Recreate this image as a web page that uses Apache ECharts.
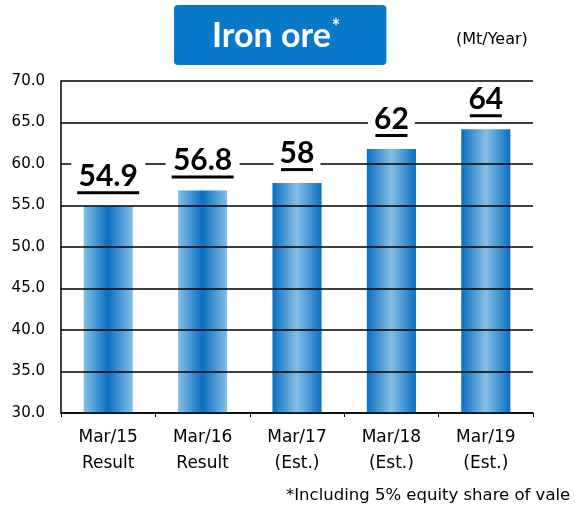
<!DOCTYPE html>
<html>
<head>
<meta charset="utf-8">
<script src="https://cdn.jsdelivr.net/npm/echarts@6/dist/echarts.min.js"></script>
<style>
  html, body { margin: 0; padding: 0; background: #fff; }
  #chart { width: 576px; height: 506px; }
</style>
</head>
<body>
<div id="chart"></div>
<script>
const categories = ['Mar/15\nResult', 'Mar/16\nResult', 'Mar/17\n(Est.)', 'Mar/18\n(Est.)', 'Mar/19\n(Est.)']
const values = [54.9, 56.8, 57.7, 61.8, 64.2]
const valueLabels = ['54.9', '56.8', '58', '62', '64']
const yTicks = [30, 35, 40, 45, 50, 55, 60, 65, 70]

const FONT = 'Lato, "Open Sans", sans-serif'
const WIDE = '"DejaVu Sans", sans-serif'
const DARK = '#0a6fc0'
const LIGHT = '#86bfe6'

// first two bars (results) are light-edged, estimates are dark-edged
function barGradient(i) {
  const edge = i < 2 ? LIGHT : DARK
  const mid = i < 2 ? DARK : LIGHT
  return new echarts.graphic.LinearGradient(0, 0, 1, 0, [
    { offset: 0, color: edge },
    { offset: 0.5, color: mid },
    { offset: 1, color: edge }
  ])
}

const chart = echarts.init(document.getElementById('chart'))

chart.setOption({
  animation: false,
  title: [
    {
      text: '{t|Iron ore}{s|*}',
      left: 174, top: 5,
      backgroundColor: '#0a78c8',
      borderRadius: 4,
      padding: [13, 46, 12, 38],
      textStyle: {
        rich: {
          t: { fontFamily: FONT, fontSize: 34, fontWeight: 'bold', color: '#fff', lineHeight: 36 },
          s: { fontFamily: FONT, fontSize: 20, fontWeight: 'bold', color: '#fff', verticalAlign: 'top', lineHeight: 36, padding: [0, 0, 14, 1] }
        }
      }
    },
    {
      text: '(Mt/Year)',
      left: 451, top: 27,
      textStyle: { fontFamily: WIDE, fontSize: 16, fontWeight: 'normal', color: '#000' }
    },
    {
      text: '*Including 5% equity share of vale',
      left: 281, top: 482,
      textStyle: { fontFamily: WIDE, fontSize: 16.5, fontWeight: 'normal', color: '#000' }
    }
  ],
  grid: { left: 61, right: 43, top: 81, bottom: 93 },
  xAxis: {
    type: 'category',
    data: categories,
    axisLine: { lineStyle: { color: '#000', width: 1.5 } },
    axisTick: { show: true, length: 4, lineStyle: { color: '#000' } },
    axisLabel: { fontFamily: WIDE, fontSize: 17, color: '#000', lineHeight: 26, margin: 12 }
  },
  yAxis: {
    type: 'value',
    min: 30, max: 70, interval: 5,
    z: 3,
    axisLine: { show: true, lineStyle: { color: '#000', width: 1.5 } },
    axisTick: { show: false },
    splitLine: { lineStyle: { color: '#000', width: 1.5 } },
    axisLabel: {
      fontFamily: WIDE, fontSize: 15, color: '#000', margin: 16,
      formatter: v => yTicks.includes(v) ? v.toFixed(1) : ''
    }
  },
  series: [
    {
      type: 'bar',
      z: 2,
      barWidth: '52%',
      data: values.map((v, i) => ({ value: v, itemStyle: { color: barGradient(i) } }))
    },
    {
      // transparent twin that carries the labels above the grid lines
      type: 'bar',
      z: 5,
      silent: true,
      barGap: '-100%',
      barWidth: '52%',
      itemStyle: { color: 'rgba(0,0,0,0)' },
      data: values.map((v, i) => ({
        value: v,
        label: {
          show: true,
          position: 'top',
          distance: 12,
          backgroundColor: '#fff',
          padding: [0, 6, 0, 6],
          formatter: '{v|' + valueLabels[i] + '}\n{u|}',
          rich: {
            v: { fontFamily: FONT, fontSize: 30, fontWeight: 'bold', color: '#000', lineHeight: 30 },
            u: { width: valueLabels[i].length > 2 ? 62 : 32, height: 3, backgroundColor: '#000' }
          }
        }
      }))
    }
  ]
})
</script>
</body>
</html>
